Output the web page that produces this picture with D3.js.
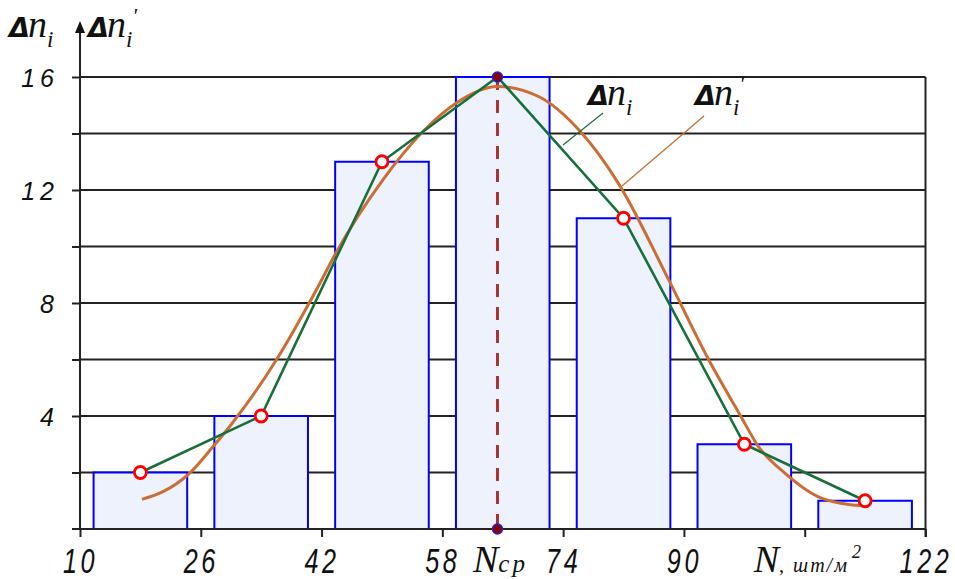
<!DOCTYPE html>
<html>
<head>
<meta charset="utf-8">
<script src="https://cdn.jsdelivr.net/npm/d3@7"></script>
<style>
    body { margin: 0; background: #fff; }
</style>
</head>
<body>
<div id="chart"></div>
<script>
// histogram
const barCenters = [18, 34, 50, 66, 82, 98, 114];
const barCounts = [2, 4, 13, 16, 11, 3, 1];
// polygon of frequencies (green)
const polyX = [18, 34, 50, 65.3, 82, 98, 114];
const polyY = [2, 4, 13, 16, 11, 3, 1];
const nMean = 65.3;
// fitted curve (orange)
const fitX = [18.2, 21.0, 24.5, 27.6, 29.8, 36.0, 41.3, 43.9, 50.1, 55.4, 59.8, 65.3, 70.8, 76.1, 81.4, 88.0, 93.3, 97.3, 99.9, 103.4, 107.8, 111.0, 114.2];
const fitY = [1.05, 1.32, 1.97, 2.91, 3.62, 5.98, 8.46, 9.77, 12.35, 14.06, 15.07, 15.66, 15.30, 14.12, 12.2, 8.81, 5.98, 4.10, 2.91, 1.97, 1.14, 0.9, 0.81];
// axes
const xTicks = [10, 26, 42, 58, 74, 90, 106, 122];
const xTickLabels = ["10", "26", "42", "58", "74", "90", "", "122"];
const gridValues = [2, 4, 6, 8, 10, 12, 14, 16];
const yLabelValues = [4, 8, 12, 16];

const barColor = "#0000ff";
const barFill = "#eef2fd";
const greenColor = "#17703a";
const orangeColor = "#cc6d35";

const width = 955, height = 579;

const svg = d3.select("#chart")
    .append("svg")
    .attr("width", width)
    .attr("height", height);

const x = d3.scaleLinear().domain([10, 122]).range([80, 925.5]);
const y = d3.scaleLinear().domain([0, 16]).range([529, 77]);

// horizontal grid (behind the bars)
svg.append("g")
    .selectAll("line")
    .data(gridValues)
    .enter().append("line")
    .attr("x1", x(10)).attr("x2", x(122))
    .attr("y1", d => y(d)).attr("y2", d => y(d))
    .attr("stroke", "#222")
    .attr("stroke-width", 2);

// bars
const halfBar = 6.2;
svg.append("g")
    .selectAll("rect")
    .data(barCenters.map((c, i) => ({ c: c, v: barCounts[i] })))
    .enter().append("rect")
    .attr("x", d => x(d.c - halfBar))
    .attr("width", d => x(d.c + halfBar) - x(d.c - halfBar))
    .attr("y", d => y(d.v))
    .attr("height", d => y(0) - y(d.v))
    .attr("fill", barFill)
    .attr("stroke", barColor)
    .attr("stroke-width", 2);

// x axis
const xAxis = svg.append("g")
    .attr("transform", "translate(0," + y(0) + ")")
    .call(d3.axisBottom(x).tickValues(xTicks).tickSize(8).tickSizeOuter(0)
        .tickFormat((d, i) => xTickLabels[i]));
xAxis.select(".domain").attr("stroke", "#222").attr("stroke-width", 2)
    .attr("d", "M" + (x(10) - 8) + ",0H" + x(122));
xAxis.selectAll(".tick line").attr("stroke", "#222").attr("stroke-width", 2);
xAxis.selectAll(".tick text")
    .attr("y", 44).attr("dy", 0)
    .attr("transform", "scale(0.72,1)")
    .attr("fill", "#111")
    .style("font-family", "'Liberation Sans', Arial, sans-serif")
    .style("font-style", "italic")
    .style("font-size", "35px")
    .style("letter-spacing", "5px");

// y axis
const yAxis = svg.append("g")
    .attr("transform", "translate(" + x(10) + ",0)")
    .call(d3.axisLeft(y).tickValues(gridValues).tickSize(8).tickSizeOuter(0)
        .tickFormat(d => yLabelValues.includes(d) ? d : ""));
yAxis.select(".domain").remove();
yAxis.selectAll(".tick line").attr("stroke", "#222").attr("stroke-width", 2);
yAxis.selectAll(".tick text")
    .attr("x", -21)
    .attr("dy", "0.36em")
    .attr("fill", "#111")
    .style("font-family", "'Liberation Sans', Arial, sans-serif")
    .style("font-style", "italic")
    .style("font-size", "25px")
    .style("letter-spacing", "5px");

// vertical axis with arrow
svg.append("line")
    .attr("x1", x(10)).attr("x2", x(10))
    .attr("y1", y(0)).attr("y2", 30)
    .attr("stroke", "#222").attr("stroke-width", 2);
svg.append("path")
    .attr("d", "M" + x(10) + ",21L" + (x(10) - 5) + ",33L" + (x(10) + 5) + ",33Z")
    .attr("fill", "#111");

// right frame line
svg.append("line")
    .attr("x1", x(122)).attr("x2", x(122))
    .attr("y1", y(16)).attr("y2", y(0) + 8)
    .attr("stroke", "#222").attr("stroke-width", 2);

// mean line
svg.append("line")
    .attr("x1", x(nMean)).attr("x2", x(nMean))
    .attr("y1", y(16)).attr("y2", y(0))
    .attr("stroke", "#a83232")
    .attr("stroke-width", 3)
    .attr("stroke-dasharray", "13,10");

// fitted curve
const fitLine = d3.line()
    .x(d => x(d[0]))
    .y(d => y(d[1]))
    .curve(d3.curveMonotoneX);
svg.append("path")
    .datum(fitX.map((v, i) => [v, fitY[i]]))
    .attr("d", fitLine)
    .attr("fill", "none")
    .attr("stroke", orangeColor)
    .attr("stroke-width", 3);

// frequency polygon
const polyLine = d3.line()
    .x(d => x(d[0]))
    .y(d => y(d[1]));
svg.append("path")
    .datum(polyX.map((v, i) => [v, polyY[i]]))
    .attr("d", polyLine)
    .attr("fill", "none")
    .attr("stroke", greenColor)
    .attr("stroke-width", 2.6);

// points (the top one is the mean point)
svg.append("g")
    .selectAll("circle")
    .data(polyX.map((v, i) => [v, polyY[i]]).filter(d => d[0] !== nMean))
    .enter().append("circle")
    .attr("cx", d => x(d[0]))
    .attr("cy", d => y(d[1]))
    .attr("r", 6)
    .attr("fill", "#fff")
    .attr("stroke", "#ff0000")
    .attr("stroke-width", 2.8);

svg.append("g")
    .selectAll("circle")
    .data([16, 0])
    .enter().append("circle")
    .attr("cx", x(nMean))
    .attr("cy", d => y(d))
    .attr("r", 5)
    .attr("fill", "#8b0000")
    .attr("stroke", "#2020e0")
    .attr("stroke-width", 1.5);

// leader lines for the legend labels
svg.append("line")
    .attr("x1", 563).attr("y1", 145).attr("x2", 603).attr("y2", 113)
    .attr("stroke", greenColor).attr("stroke-width", 1.3);
svg.append("line")
    .attr("x1", 622).attr("y1", 186).attr("x2", 704).attr("y2", 116)
    .attr("stroke", orangeColor).attr("stroke-width", 1.3);

// Δn_i labels
function deltaLabel(px, py, prime) {
    const t = svg.append("text")
        .attr("x", px).attr("y", py)
        .attr("fill", "#111");
    t.append("tspan")
        .style("font-family", "'DejaVu Sans', sans-serif")
        .style("font-weight", "bold")
        .style("font-style", "italic")
        .style("font-size", "27px")
        .text("Δ");
    t.append("tspan")
        .attr("dx", -2)
        .style("font-family", "'Liberation Serif', 'Times New Roman', serif")
        .style("font-style", "italic")
        .style("font-size", "38px")
        .text("n");
    t.append("tspan")
        .attr("dy", 10)
        .style("font-family", "'Liberation Serif', 'Times New Roman', serif")
        .style("font-style", "italic")
        .style("font-size", "23px")
        .text("i");
    if (prime) {
        t.append("tspan")
            .attr("dy", -24)
            .attr("dx", 0)
            .style("font-family", "'Liberation Serif', 'Times New Roman', serif")
            .style("font-style", "italic")
            .style("font-size", "22px")
            .text("'");
    }
}
deltaLabel(9, 37, false);
deltaLabel(88, 37, true);
deltaLabel(588, 105, false);
deltaLabel(695, 105, true);

// N_cp label under the mean
const ncp = svg.append("text")
    .attr("x", 473).attr("y", 572)
    .attr("fill", "#111")
    .style("font-family", "'Liberation Serif', 'Times New Roman', serif")
    .style("font-style", "italic");
ncp.append("tspan").style("font-size", "38px").text("N");
ncp.append("tspan").style("font-size", "25px").style("letter-spacing", "3px").text("cp");

// axis title in place of 106
const nUnit = svg.append("text")
    .attr("x", x(106) - 51).attr("y", 572)
    .attr("fill", "#111")
    .style("font-family", "'Liberation Serif', 'Times New Roman', serif")
    .style("font-style", "italic");
nUnit.append("tspan").style("font-size", "38px").text("N");
nUnit.append("tspan").style("font-size", "20px").style("letter-spacing", "2px").text(", шт/м");
nUnit.append("tspan").attr("dy", -14).attr("dx", 3).style("font-size", "18px").text("2");
</script>
</body>
</html>
